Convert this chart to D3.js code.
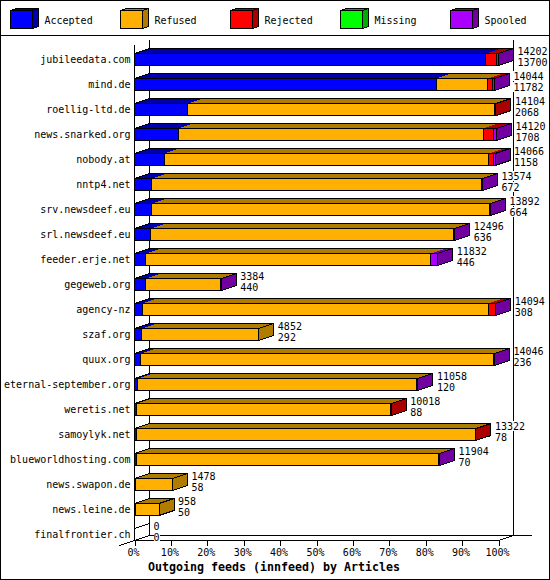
<!DOCTYPE html>
<html>
<head>
<meta charset="utf-8">
<script src="https://cdn.jsdelivr.net/npm/d3@7"></script>
<style>
  html, body { margin: 0; padding: 0; background: #fff; }
  svg { display: block; }
  text { font-family: "DejaVu Sans Mono", monospace; font-size: 10px; fill: #000; }
  .title { font-size: 11.63px; font-weight: bold; }
</style>
</head>
<body>
<div id="chart"></div>
<script>
const hosts = ["jubileedata.com", "mind.de", "roellig-ltd.de", "news.snarked.org", "nobody.at", "nntp4.net", "srv.newsdeef.eu", "srl.newsdeef.eu", "feeder.erje.net", "gegeweb.org", "agency-nz", "szaf.org", "quux.org", "eternal-september.org", "weretis.net", "samoylyk.net", "blueworldhosting.com", "news.swapon.de", "news.leine.de", "finalfrontier.ch"];

// the two numbers printed next to each bar
const totals = [14202, 14044, 14104, 14120, 14066, 13574, 13892, 12496, 11832, 3384, 14094, 4852, 14046, 11058, 10018, 13322, 11904, 1478, 958, 0];
const accepted = [13700, 11782, 2068, 1708, 1158, 672, 664, 636, 446, 440, 308, 292, 236, 120, 88, 78, 70, 58, 50, 0];

const refused = [0, 2000, 11996, 11892, 12664, 12860, 13188, 11820, 11104, 2920, 13490, 4560, 13770, 10900, 9910, 13224, 11810, 1420, 908, 0];
const rejected = [440, 196, 40, 390, 195, 0, 0, 0, 0, 0, 270, 0, 10, 0, 20, 20, 0, 0, 0, 0];
const missing = [0, 0, 0, 0, 0, 0, 0, 0, 0, 0, 0, 0, 0, 0, 0, 0, 0, 0, 0, 0];
const spooled = [62, 66, 0, 130, 49, 42, 40, 40, 282, 24, 26, 0, 30, 38, 0, 0, 24, 0, 0, 0];

const seriesNames = ["Accepted", "Refused", "Rejected", "Missing", "Spooled"];
const seriesValues = [accepted, refused, rejected, missing, spooled];
const seriesColors = ["#0000ff", "#ffb000", "#ff0000", "#00ff00", "#aa00ff"];
const seriesDark = ["#0000aa", "#b07c00", "#aa0000", "#00aa00", "#7000a0"];

const percentTicks = [0, 10, 20, 30, 40, 50, 60, 70, 80, 90, 100];
const maxTotal = d3.max(totals);

const width = 550;
const height = 580;
const depthX = 15;
const depthY = 5;
const barHeight = 12;

const svg = d3.select("#chart")
    .append("svg")
    .attr("width", width)
    .attr("height", height)
    .attr("viewBox", [0, 0, width, height])
    .attr("shape-rendering", "crispEdges");

const x = d3.scaleLinear().domain([0, 100]).range([134.5, 498.5]);
const y = d3.scalePoint().domain(hosts).range([53.5, 528.5]);
const pct = v => x(v / maxTotal * 100);
const floorY = y(hosts[hosts.length - 1]) + barHeight;

const poly = pts => pts.map(p => p.join(",")).join(" ");
const topFace = (a, b, t) => poly([[a, t], [b, t], [b + depthX, t - depthY], [a + depthX, t - depthY]]);
const sideFace = (b, t) => poly([[b, t], [b + depthX, t - depthY], [b + depthX, t + barHeight - depthY], [b, t + barHeight]]);

// frame and legend
svg.append("rect").attr("x", 0.5).attr("y", 0.5).attr("width", width - 1).attr("height", height - 1)
    .attr("fill", "#fff").attr("stroke", "#000");
svg.append("line").attr("x1", 0).attr("x2", width).attr("y1", 35.5).attr("y2", 35.5).attr("stroke", "#000");

const legendX = d3.scalePoint().domain(seriesNames).range([10.5, 450.5]);
const legend = svg.selectAll(".legend")
    .data(seriesNames)
    .enter()
    .append("g")
    .attr("class", "legend")
    .attr("transform", d => `translate(${legendX(d)},10.5)`);

legend.append("polygon")
    .attr("points", poly([[0, 0], [22, 0], [28, -2], [28, 16], [22, 18], [22, 0], [0, 0]]))
    .attr("fill", (d, i) => seriesDark[i])
    .attr("stroke", "#000");
legend.append("polygon")
    .attr("points", poly([[0, 0], [6, -2], [28, -2], [22, 0]]))
    .attr("fill", (d, i) => seriesDark[i])
    .attr("stroke", "#000");
legend.append("rect")
    .attr("width", 22)
    .attr("height", 18)
    .attr("fill", (d, i) => seriesColors[i])
    .attr("stroke", "#000");
legend.append("text")
    .attr("x", 34)
    .attr("y", 13)
    .text(d => d);

// axes box, only these lines show in the original
const axisLines = [
    [x(0), 45, x(0), floorY],
    [x(0) + depthX, 40, x(0) + depthX, floorY - depthY],
    [x(100) + depthX, 40, x(100) + depthX, floorY - depthY],
    [x(0) + depthX, floorY - depthY, 531.5, floorY - depthY],
    [x(0), floorY, x(100), floorY],
    [x(100), floorY, x(100) + depthX, floorY - depthY],
    [119.5, floorY + depthY, x(0) + depthX, floorY - depthY]
];
svg.append("g").selectAll("line")
    .data(axisLines)
    .enter()
    .append("line")
    .attr("x1", d => d[0])
    .attr("y1", d => d[1])
    .attr("x2", d => d[2])
    .attr("y2", d => d[3])
    .attr("stroke", "#000");

// bars
const rows = svg.selectAll(".row")
    .data(hosts)
    .enter()
    .append("g")
    .attr("class", "row");

rows.each(function (host, r) {
    const g = d3.select(this);
    const top = y(host);
    let sum = 0;
    const segments = [];
    seriesValues.forEach((values, s) => {
        if (values[r] > 0) {
            segments.push({ s, a: pct(sum), b: pct(sum + values[r]) });
            sum += values[r];
        }
    });
    const end = pct(sum);
    const last = segments[segments.length - 1];

    g.selectAll(".top")
        .data(segments)
        .enter()
        .append("polygon")
        .attr("points", d => topFace(d.a, d.b, top))
        .attr("fill", d => seriesDark[d.s]);
    g.append("polygon")
        .attr("points", topFace(x(0), end, top))
        .attr("fill", "none")
        .attr("stroke", "#000");
    g.append("polygon")
        .attr("points", sideFace(end, top))
        .attr("fill", last ? seriesDark[last.s] : "#fff")
        .attr("stroke", "#000");
    g.selectAll(".front")
        .data(segments)
        .enter()
        .append("rect")
        .attr("x", d => d.a)
        .attr("y", top)
        .attr("width", d => d.b - d.a)
        .attr("height", barHeight)
        .attr("fill", d => seriesColors[d.s])
        .attr("stroke", "#000");

    // number labels sit on white and cut the axis lines
    [[totals[r], top + 1], [accepted[r], top + 12]].forEach(([value, base]) => {
        const label = String(value);
        g.append("rect")
            .attr("x", end + depthX + 4)
            .attr("y", base - 9)
            .attr("width", label.length * 6)
            .attr("height", 10)
            .attr("fill", "#fff");
        g.append("text")
            .attr("x", end + depthX + 4)
            .attr("y", base)
            .attr("shape-rendering", "auto")
            .text(label);
    });
});

// category axis
const yAxis = d3.axisLeft(y).tickSize(0).tickPadding(4);
const yG = svg.append("g")
    .attr("transform", `translate(${x(0)},${barHeight / 2})`)
    .call(yAxis);
yG.select(".domain").remove();
yG.attr("font-family", null).attr("font-size", null);

// percent axis
const xAxis = d3.axisBottom(x)
    .tickValues(percentTicks)
    .tickFormat(d => d + "%")
    .tickSize(5)
    .tickPadding(3);
const xG = svg.append("g")
    .attr("transform", `translate(0,${floorY})`)
    .call(xAxis);
xG.select(".domain").remove();
xG.selectAll("line").attr("stroke", "#000");
xG.selectAll("text").attr("dx", -1.5);
xG.attr("font-family", null).attr("font-size", null);

svg.append("text")
    .attr("class", "title")
    .attr("x", 274)
    .attr("y", 571)
    .attr("text-anchor", "middle")
    .text("Outgoing feeds (innfeed) by Articles");
</script>
</body>
</html>
